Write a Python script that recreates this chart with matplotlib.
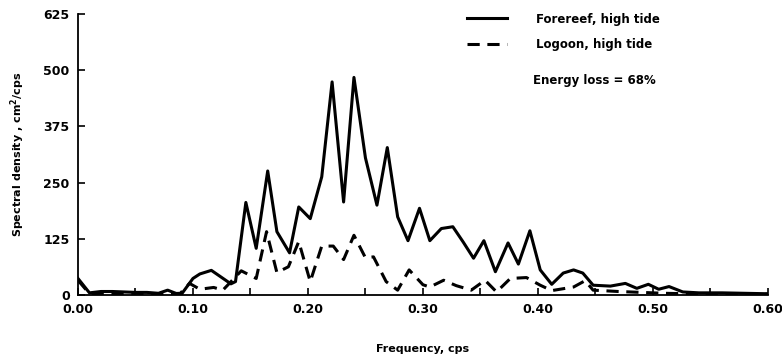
import matplotlib
matplotlib.use('Agg')
import matplotlib.pyplot as plt
from matplotlib.ticker import MultipleLocator

plt.rcParams['font.family'] = ['DejaVu Sans']
plt.rcParams['font.weight'] = 'bold'

# spectrum
forereef_f = [0.000, 0.010, 0.020, 0.030, 0.040, 0.050, 0.060, 0.070, 0.078, 0.086,
              0.090, 0.100, 0.106, 0.116, 0.133, 0.137, 0.146, 0.155, 0.165, 0.173,
              0.184, 0.192, 0.202, 0.212, 0.221, 0.231, 0.240, 0.250, 0.260, 0.269,
              0.278, 0.287, 0.297, 0.306, 0.316, 0.326, 0.335, 0.344, 0.353, 0.363,
              0.374, 0.383, 0.393, 0.402, 0.412, 0.422, 0.431, 0.439, 0.448, 0.463,
              0.476, 0.486, 0.496, 0.505, 0.514, 0.526, 0.540, 0.560, 0.580, 0.600]
forereef_v = [37, 5, 8, 8, 7, 6, 6, 4, 11, 3,
              2, 37, 47, 55, 25, 30, 206, 104, 276, 141,
              94, 196, 170, 263, 474, 207, 484, 305, 200, 328,
              174, 121, 193, 121, 148, 152, 118, 82, 121, 52,
              116, 69, 143, 56, 24, 49, 56, 49, 22, 20,
              26, 15, 24, 13, 19, 7, 5, 5, 4, 3]

lagoon_f = [0.000, 0.010, 0.020, 0.030, 0.040, 0.050, 0.060, 0.070, 0.080, 0.089,
            0.097, 0.106, 0.118, 0.126, 0.132, 0.142, 0.155, 0.164, 0.173, 0.183,
            0.192, 0.202, 0.212, 0.222, 0.231, 0.240, 0.250, 0.257, 0.268, 0.278,
            0.288, 0.300, 0.306, 0.318, 0.329, 0.342, 0.354, 0.364, 0.376, 0.390,
            0.402, 0.412, 0.431, 0.441, 0.448, 0.470, 0.490, 0.510, 0.530, 0.560,
            0.600]
lagoon_v = [33, 3, 4, 3, 3, 4, 3, 2, 3, 4,
            26, 13, 17, 11, 27, 54, 37, 141, 50, 63,
            119, 30, 109, 109, 79, 133, 83, 85, 30, 11,
            56, 23, 18, 33, 21, 11, 33, 7, 37, 39,
            22, 10, 18, 32, 11, 8, 6, 4, 3, 3,
            2]

y_ticks = [0, 125, 250, 375, 500, 625]

fig = plt.figure(figsize=(7.82, 3.59), dpi=100)
ax = fig.add_axes([0.0997, 0.178, 0.8823, 0.783])

ax.plot(forereef_f, forereef_v, color='black', lw=2.2, label='Forereef, high tide')
ax.plot(lagoon_f, lagoon_v, color='black', lw=2.2, dashes=(4, 2.5),
        label='Logoon, high tide')

ax.set_xlim(0, 0.6)
ax.set_ylim(0, 625)
ax.set_yticks(y_ticks)
ax.xaxis.set_major_locator(MultipleLocator(0.1))
ax.xaxis.set_minor_locator(MultipleLocator(0.05))
ax.xaxis.set_major_formatter(lambda v, p: '%.2f' % v)
ax.tick_params(direction='in', length=5, width=1.2, labelsize=9, pad=6)
ax.tick_params(axis='x', which='minor', direction='in', length=5, width=1.2)
for s in ['top', 'right']:
    ax.spines[s].set_visible(False)
for s in ['left', 'bottom']:
    ax.spines[s].set_linewidth(1.3)

ax.set_xlabel('Frequency, cps', fontsize=8, fontweight='bold', labelpad=20)
ax.set_ylabel('Spectral density , cm$^2$/cps', fontsize=8, fontweight='bold', labelpad=12)

ax.legend(loc='upper left', bbox_to_anchor=(0.564, 1.005), frameon=False,
          borderpad=0, borderaxespad=0,
          handlelength=3.4, handletextpad=2.4, fontsize=8.5, labelspacing=1.05)
ax.text(0.659, 0.765, 'Energy loss = 68%', transform=ax.transAxes,
        fontsize=8.5, fontweight='bold', va='center')

fig.savefig('out.png', dpi=100)
